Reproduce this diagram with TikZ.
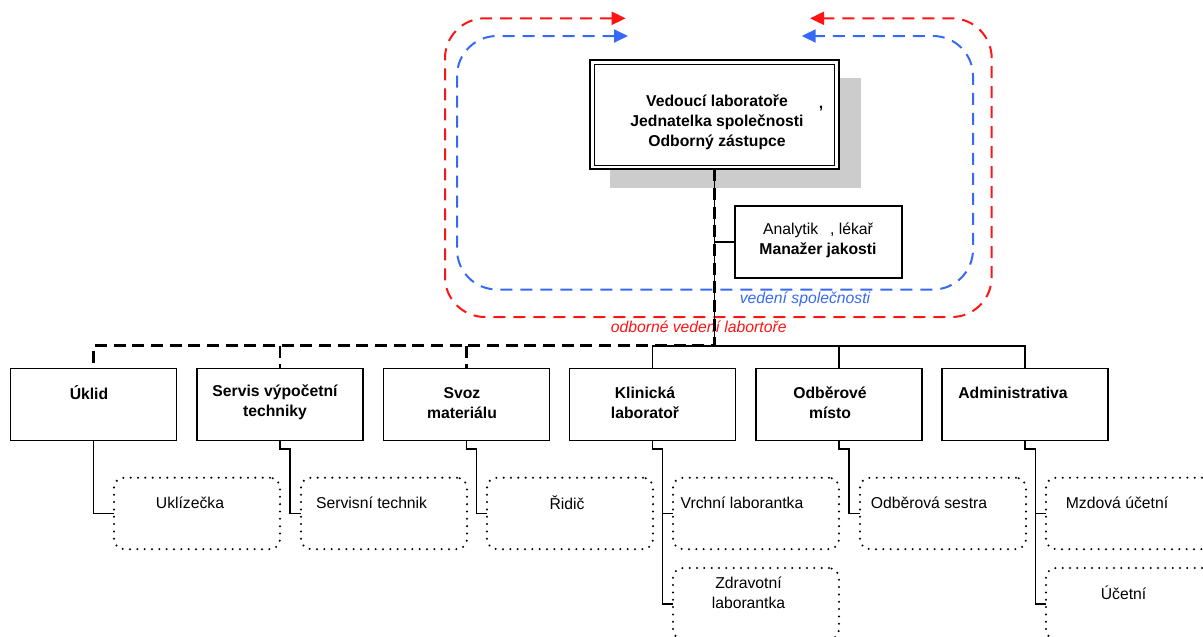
\documentclass[tikz,border=0pt]{standalone}
\usepackage{fontspec}
\setmainfont{Liberation Sans}
\usetikzlibrary{arrows.meta,calc}
\definecolor{cred}{RGB}{255,20,20}
\definecolor{cblue}{RGB}{55,105,245}
\definecolor{shadowgray}{RGB}{204,204,204}
\begin{document}
\begin{tikzpicture}[x=0.75pt,y=-0.75pt,
  every node/.style={font=\fontsize{11.8}{14.8}\selectfont, inner sep=0pt, outer sep=0pt},
  unit/.style={draw, line width=1.2pt, minimum width=124.5pt, minimum height=54pt, anchor=north west},
  sub/.style={draw, line width=1.7pt, dash pattern=on 0pt off 5.5pt, line cap=round, rounded corners=7.5pt, minimum width=124.5pt, minimum height=53.6pt, anchor=north west},
  btxt/.style={font=\bfseries\fontsize{11.8}{15}\selectfont, align=center},
  ntxt/.style={align=center, font=\fontsize{11.8}{15}\selectfont},
  link/.style={line width=1.2pt},
  dlink/.style={line width=2.2pt, dash pattern=on 9pt off 5pt},
  loopline/.style={line width=1.5pt, dash pattern=on 9pt off 6pt, rounded corners=30pt,
     {Triangle[length=10.5pt,width=9.75pt]}-{Triangle[length=10.5pt,width=9.75pt]}}
]
\clip (0,0) rectangle (1203,636);

% shadow and top box
\fill[shadowgray] (610,77.7) rectangle (861,188.3);
\node[draw, line width=1.5pt, fill=white, minimum width=186.75pt, minimum height=81.75pt] (top) at (714.5,114.8) {};
\draw[line width=0.9pt] ([shift={(4.5,4)}]top.north west) rectangle ([shift={(-4.5,-4)}]top.south east);
\node[btxt] (toptxt) at (717,122) {Vedoucí laboratoře\\Jednatelka společnosti\\Odborný zástupce};
\node[btxt, anchor=base] (comma) at (821,108) {,};

% quality manager
\node[draw, line width=1.2pt, minimum width=125pt, minimum height=54.2pt] (an) at (818.4,241.9) {};
\node[ntxt] (antxt) at (818,240) {Analytik\hspace{9pt}, lékař\\\textbf{Manažer jakosti}};

% loops
\coordinate (r1) at (625.7,18.3);
\coordinate (r2) at (810,18.3);
\coordinate (bl1) at (628,36);
\coordinate (bl2) at (801.7,36);
\draw[loopline, cred] (r1) -- (445,18.3) -- (445,317) -- (991.7,317) -- (991.7,18.3) -- (r2);
\draw[loopline, cblue] (bl1) -- (457,36) -- (457,289.5) -- (973,289.5) -- (973,36) -- (bl2);
\node[font=\itshape\fontsize{11.8}{14.8}\selectfont, text=cblue] (vs) at (805,299) {vedení společnosti};
\node[font=\itshape\fontsize{11.8}{14.8}\selectfont, text=cred] (ov) at (698.7,326.7) {odborné vedení labortoře};

% department boxes
\node[unit] (b1) at (10.3,368.3) {};
\node[unit] (b2) at (197,368.3) {};
\node[unit] (b3) at (383.5,368.3) {};
\node[unit] (b4) at (569.4,368.3) {};
\node[unit] (b5) at (756,368.3) {};
\node[unit] (b6) at (942,368.3) {};
\node[btxt] (t1) at (89,392.7) {Úklid};
\node[btxt] (t2) at (275,402.7) {Servis výpočetní\\techniky};
\node[btxt] (t3) at (462,402.7) {Svoz\\materiálu};
\node[btxt] (t4) at (645,402.7) {Klinická\\laboratoř};
\node[btxt] (t5) at (830,402.7) {Odběrové\\místo};
\node[btxt] (t6) at (1013,392.7) {Administrativa};

% staff boxes
\node[sub] (s1) at (114,477.7) {};
\node[sub] (s2) at (301,477.7) {};
\node[sub] (s3) at (487,477.7) {};
\node[sub] (s4) at (673,477.7) {};
\node[sub] (s5) at (860,477.7) {};
\node[sub] (s6) at (1046,477.7) {};
\node[sub] (s4b) at (673,568) {};
\node[sub] (s6b) at (1046,568) {};
\node[ntxt] (u1) at (190,502.7) {Uklízečka};
\node[ntxt] (u2) at (371.6,502.7) {Servisní technik};
\node[ntxt] (u3) at (567,502.7) {Řidič};
\node[ntxt] (u4) at (742,502.7) {Vrchní laborantka};
\node[ntxt] (u5) at (929,502.7) {Odběrová sestra};
\node[ntxt] (u6) at (1117,502.7) {Mzdová účetní};
\node[ntxt] (u4b) at (748.5,592.7) {Zdravotní\\laborantka};
\node[ntxt] (u6b) at (1123.5,592.7) {Účetní};

% connectors
\coordinate (j) at (714.5,345.7);
\draw[link] (an.west) -- (an.west -| top.south);
\draw[link] (b4.north) -- (b4.north |- j) -- (b6.north |- j) -- (b6.north);
\draw[link] (b5.north) -- (b5.north |- j);
\draw[link] (top.south) -- (j);
\draw[dlink] (top.south) -- (j) -- (j -| b1.north) -- (b1.north);
\draw[dlink] (b2.north |- j) -- (b2.north);
\draw[dlink] (b3.north |- j) -- (b3.north);

\draw[link] (b1.south) |- (s1.west);
\draw[link] (b2.south) -- ++(0,8.5) -| ($(s2.west)+(-11,0)$) -- (s2.west);
\draw[link] (b3.south) -- ++(0,8.5) -| ($(s3.west)+(-10.5,0)$) -- (s3.west);
\draw[link] (b4.south) -- ++(0,8.5) -| ($(s4b.west)+(-10.5,0)$) -- (s4b.west);
\draw[link] ($(s4.west)+(-10.5,0)$) -- (s4.west);
\draw[link] (b5.south) -- ++(0,8.5) -| ($(s5.west)+(-11,0)$) -- (s5.west);
\draw[link] (b6.south) -- ++(0,8.5) -| ($(s6b.west)+(-10.5,0)$) -- (s6b.west);
\draw[link] ($(s6.west)+(-10.5,0)$) -- (s6.west);
\end{tikzpicture}
\end{document}
